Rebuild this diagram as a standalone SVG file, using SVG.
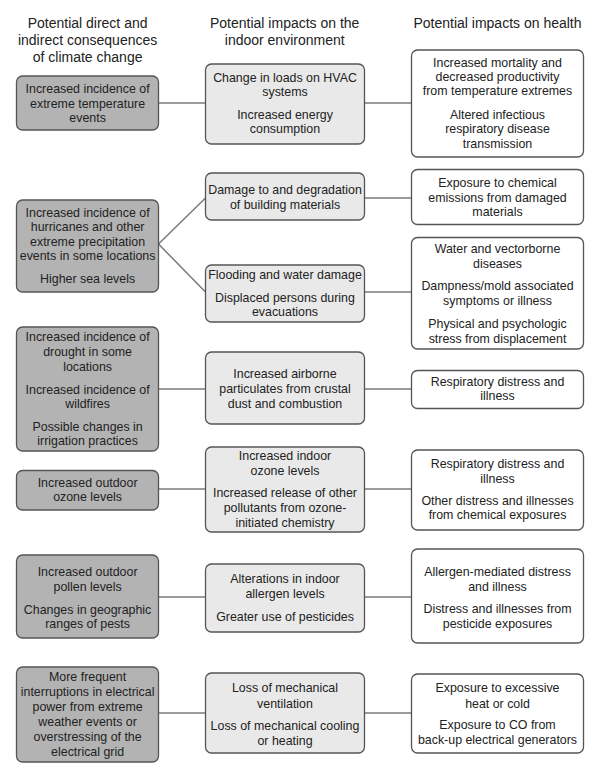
<svg xmlns="http://www.w3.org/2000/svg" width="595" height="775" viewBox="0 0 595 775">
<style>
text{font-family:"Liberation Sans",Arial,sans-serif;fill:#222;text-anchor:middle}
.h{font-size:14px}
.t{font-size:12.4px}
.b{stroke:#555;stroke-width:1.3}
.l{fill:#b3b3b3}
.m{fill:#e9e9e9}
.r{fill:#fff}
.c line{stroke:#7a7a7a;stroke-width:1.5}
</style>
<rect width="595" height="775" fill="#fff"/>
<g id="headers" class="h">
<text class="h" x="87.6" y="28">Potential direct and</text>
<text class="h" x="87.6" y="45">indirect consequences</text>
<text class="h" x="87.6" y="62">of climate change</text>
<text class="h" x="284.7" y="28">Potential impacts on the</text>
<text class="h" x="284.7" y="45">indoor environment</text>
<text class="h" x="497.5" y="28">Potential impacts on health</text>
</g>
<g class="c" id="connectors">
<line x1="158.5" y1="103" x2="205.5" y2="103"/>
<line x1="364.5" y1="103" x2="411.5" y2="103"/>
<line x1="158.5" y1="244" x2="205.5" y2="198"/>
<line x1="158.5" y1="244" x2="205.5" y2="292"/>
<line x1="364.5" y1="198" x2="411.5" y2="198"/>
<line x1="364.5" y1="292" x2="411.5" y2="292"/>
<line x1="158.5" y1="389" x2="205.5" y2="389"/>
<line x1="364.5" y1="389" x2="411.5" y2="389"/>
<line x1="158.5" y1="489" x2="205.5" y2="489"/>
<line x1="364.5" y1="489" x2="411.5" y2="489"/>
<line x1="158.5" y1="597" x2="205.5" y2="597"/>
<line x1="364.5" y1="597" x2="411.5" y2="597"/>
<line x1="158.5" y1="713" x2="205.5" y2="713"/>
<line x1="364.5" y1="713" x2="411.5" y2="713"/>
</g>
<g id="L1"><rect class="b l" x="16.5" y="76" width="142" height="54" rx="6"/>
<text class="t" x="87.6" y="92.5">Increased incidence of</text><text class="t" x="87.6" y="107.5">extreme temperature</text><text class="t" x="87.6" y="121.5">events</text></g>
<g id="L2"><rect class="b l" x="16.5" y="200" width="142" height="92" rx="6"/>
<text class="t" x="87.6" y="216.5">Increased incidence of</text><text class="t" x="87.6" y="231">hurricanes and other</text><text class="t" x="87.6" y="245.5">extreme precipitation</text><text class="t" x="87.6" y="260">events in some locations</text><text class="t" x="87.6" y="282.5">Higher sea levels</text></g>
<g id="L3"><rect class="b l" x="16.5" y="327" width="142" height="124" rx="6"/>
<text class="t" x="87.6" y="341">Increased incidence of</text><text class="t" x="87.6" y="356">drought in some</text><text class="t" x="87.6" y="371">locations</text><text class="t" x="87.6" y="393.5">Increased incidence of</text><text class="t" x="87.6" y="408">wildfires</text><text class="t" x="87.6" y="431">Possible changes in</text><text class="t" x="87.6" y="445">irrigation practices</text></g>
<g id="L4"><rect class="b l" x="16.5" y="470.5" width="142" height="39.5" rx="6"/>
<text class="t" x="87.6" y="487">Increased outdoor</text><text class="t" x="87.6" y="501">ozone levels</text></g>
<g id="L5"><rect class="b l" x="16.5" y="555" width="142" height="83" rx="6"/>
<text class="t" x="87.6" y="576">Increased outdoor</text><text class="t" x="87.6" y="590.5">pollen levels</text><text class="t" x="87.6" y="613.5">Changes in geographic</text><text class="t" x="87.6" y="628">ranges of pests</text></g>
<g id="L6"><rect class="b l" x="16.5" y="667" width="142" height="95" rx="6"/>
<text class="t" x="87.6" y="681">More frequent</text><text class="t" x="87.6" y="696">interruptions in electrical</text><text class="t" x="87.6" y="710.5">power from extreme</text><text class="t" x="87.6" y="726">weather events or</text><text class="t" x="87.6" y="741">overstressing of the</text><text class="t" x="87.6" y="756">electrical grid</text></g>
<g id="M1"><rect class="b m" x="205.5" y="64" width="159" height="80" rx="6"/>
<text class="t" x="285" y="81.5">Change in loads on HVAC</text><text class="t" x="285" y="96">systems</text><text class="t" x="285" y="119">Increased energy</text><text class="t" x="285" y="133">consumption</text></g>
<g id="M2"><rect class="b m" x="205.5" y="173" width="159" height="47" rx="6"/>
<text class="t" x="285" y="193.5">Damage to and degradation</text><text class="t" x="285" y="209">of building materials</text></g>
<g id="M3"><rect class="b m" x="205.5" y="265" width="159" height="57" rx="6"/>
<text class="t" x="285" y="279">Flooding and water damage</text><text class="t" x="285" y="301.5">Displaced persons during</text><text class="t" x="285" y="316">evacuations</text></g>
<g id="M4"><rect class="b m" x="205.5" y="352" width="159" height="72" rx="6"/>
<text class="t" x="285" y="377.5">Increased airborne</text><text class="t" x="285" y="392.5">particulates from crustal</text><text class="t" x="285" y="407.5">dust and combustion</text></g>
<g id="M5"><rect class="b m" x="205.5" y="447" width="159" height="85" rx="6"/>
<text class="t" x="285" y="460">Increased indoor</text><text class="t" x="285" y="475">ozone levels</text><text class="t" x="285" y="497">Increased release of other</text><text class="t" x="285" y="512">pollutants from ozone-</text><text class="t" x="285" y="526.5">initiated chemistry</text></g>
<g id="M6"><rect class="b m" x="205.5" y="564" width="159" height="68" rx="6"/>
<text class="t" x="285" y="583">Alterations in indoor</text><text class="t" x="285" y="598">allergen levels</text><text class="t" x="285" y="621">Greater use of pesticides</text></g>
<g id="M7"><rect class="b m" x="205.5" y="673" width="159" height="80" rx="6"/>
<text class="t" x="285" y="692">Loss of mechanical</text><text class="t" x="285" y="707.5">ventilation</text><text class="t" x="285" y="730">Loss of mechanical cooling</text><text class="t" x="285" y="745">or heating</text></g>
<g id="R1"><rect class="b r" x="411.5" y="50" width="172" height="107" rx="6"/>
<text class="t" x="497.5" y="67">Increased mortality and</text><text class="t" x="497.5" y="81">decreased productivity</text><text class="t" x="497.5" y="95">from temperature extremes</text><text class="t" x="497.5" y="118.5">Altered infectious</text><text class="t" x="497.5" y="133">respiratory disease</text><text class="t" x="497.5" y="148">transmission</text></g>
<g id="R2"><rect class="b r" x="411.5" y="169.5" width="172" height="55" rx="6"/>
<text class="t" x="497.5" y="187">Exposure to chemical</text><text class="t" x="497.5" y="201.5">emissions from damaged</text><text class="t" x="497.5" y="216">materials</text></g>
<g id="R3"><rect class="b r" x="411.5" y="237.5" width="172" height="111.5" rx="6"/>
<text class="t" x="497.5" y="252.5">Water and vectorborne</text><text class="t" x="497.5" y="267.5">diseases</text><text class="t" x="497.5" y="290">Dampness/mold associated</text><text class="t" x="497.5" y="305">symptoms or illness</text><text class="t" x="497.5" y="327.5">Physical and psychologic</text><text class="t" x="497.5" y="342.5">stress from displacement</text></g>
<g id="R4"><rect class="b r" x="411.5" y="370.5" width="172" height="38" rx="6"/>
<text class="t" x="497.5" y="386">Respiratory distress and</text><text class="t" x="497.5" y="400">illness</text></g>
<g id="R5"><rect class="b r" x="411.5" y="450" width="172" height="80" rx="6"/>
<text class="t" x="497.5" y="467.5">Respiratory distress and</text><text class="t" x="497.5" y="482.5">illness</text><text class="t" x="497.5" y="505">Other distress and illnesses</text><text class="t" x="497.5" y="519">from chemical exposures</text></g>
<g id="R6"><rect class="b r" x="411.5" y="549" width="172" height="94" rx="6"/>
<text class="t" x="497.5" y="576">Allergen-mediated distress</text><text class="t" x="497.5" y="591">and illness</text><text class="t" x="497.5" y="613">Distress and illnesses from</text><text class="t" x="497.5" y="627.5">pesticide exposures</text></g>
<g id="R7"><rect class="b r" x="411.5" y="674" width="172" height="79" rx="6"/>
<text class="t" x="497.5" y="692">Exposure to excessive</text><text class="t" x="497.5" y="707.5">heat or cold</text><text class="t" x="497.5" y="729">Exposure to CO from</text><text class="t" x="497.5" y="744">back-up electrical generators</text></g>
</svg>
